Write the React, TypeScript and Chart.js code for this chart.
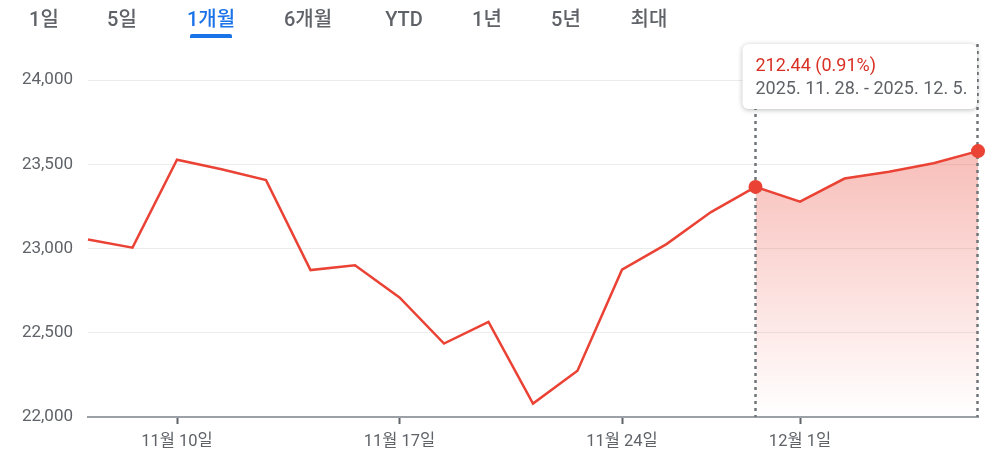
import React, { useEffect, useRef } from "react";
import { Chart, registerables } from "chart.js";
Chart.register(...registerables);

const dates = [
  "11월 6일", "11월 7일", "11월 10일", "11월 11일", "11월 12일", "11월 13일", "11월 14일",
  "11월 17일", "11월 18일", "11월 19일", "11월 20일", "11월 21일", "11월 24일", "11월 25일",
  "11월 26일", "11월 28일", "12월 1일", "12월 2일", "12월 3일", "12월 4일", "12월 5일",
];
const values = [
  23054, 23005, 23527, 23470, 23406, 22872, 22901, 22710, 22436, 22565, 22080,
  22275, 22874, 23026, 23216, 23365.69, 23278, 23415, 23455, 23506, 23578.13,
];
const shownTicks = ["11월 10일", "11월 17일", "11월 24일", "12월 1일"];
const yTicks = [22000, 22500, 23000, 23500, 24000];
const tabs = ["1일", "5일", "1개월", "6개월", "YTD", "1년", "5년", "최대"];
const tabCenters = [44, 122, 211, 308, 404, 487, 566, 649];
const activeTab = 2;
const rangeStart = 15;
const rangeEnd = 20;
const rangeLabel = "2025. 11. 28. - 2025. 12. 5.";

const RED = "#ea4335";
const FONT = "Roboto, 'Noto Sans CJK KR', sans-serif";

export default function App() {
  const ref = useRef<HTMLCanvasElement | null>(null);

  useEffect(() => {
    const canvas = ref.current;
    if (!canvas) return;
    const change = values[rangeEnd] - values[rangeStart];
    const pct = (change / values[rangeStart]) * 100;
    const redText = `${change.toFixed(2)} (${pct.toFixed(2)}%)`;

    const overlay = {
      id: "overlay",
      afterDatasetsDraw(chart: any) {
        const ctx = chart.ctx;
        const bottom = chart.chartArea.bottom;
        const meta = chart.getDatasetMeta(0);
        ctx.save();
        ctx.strokeStyle = "#70757a";
        ctx.lineWidth = 2.5;
        ctx.setLineDash([3, 4]);
        [rangeStart, rangeEnd].forEach((i) => {
          const px = Math.round(meta.data[i].x) - 0.5;
          ctx.beginPath();
          ctx.moveTo(px, 44);
          ctx.lineTo(px, bottom);
          ctx.stroke();
        });
        ctx.setLineDash([]);
        ctx.fillStyle = RED;
        [rangeStart, rangeEnd].forEach((i) => {
          const p = meta.data[i];
          ctx.beginPath();
          ctx.arc(p.x, p.y, 7, 0, Math.PI * 2);
          ctx.fill();
        });
        ctx.restore();
      },
      afterDraw(chart: any) {
        const ctx = chart.ctx;
        const x = chart.scales.x;
        const x0 = x.getPixelForValue(rangeStart);
        const x1 = x.getPixelForValue(rangeEnd);
        const left = x0 - 13;
        const top = 44;
        const w = x1 - left - 1;
        const h = 65;
        ctx.save();
        ctx.shadowColor = "rgba(60,64,67,0.35)";
        ctx.shadowBlur = 5;
        ctx.shadowOffsetY = 1;
        ctx.fillStyle = "#fff";
        ctx.beginPath();
        (ctx as any).roundRect(left, top, w, h, 6);
        ctx.fill();
        ctx.shadowColor = "transparent";
        ctx.textAlign = "left";
        ctx.textBaseline = "alphabetic";
        ctx.font = `18px ${FONT}`;
        ctx.fillStyle = "#d93025";
        ctx.fillText(redText, left + 13, 71);
        ctx.fillStyle = "#5f6368";
        ctx.fillText(rangeLabel, left + 13, 94);
        ctx.restore();
      },
    };

    const chart = new Chart(canvas, {
      type: "line",
      data: {
        labels: dates,
        datasets: [
          {
            data: values,
            borderColor: RED,
            borderWidth: 2.5,
            backgroundColor: RED,
            pointRadius: 0,
            fill: false,
            tension: 0,
          },
          {
            data: values.map((v, i) => (i >= rangeStart && i <= rangeEnd ? v : null)),
            borderWidth: 0,
            pointRadius: 0,
            fill: "start",
            backgroundColor: (c: any) => {
              const area = c.chart.chartArea;
              if (!area) return "rgba(234,67,53,0.3)";
              const g = c.chart.ctx.createLinearGradient(0, area.top + 60, 0, area.bottom);
              g.addColorStop(0, "rgba(234,67,53,0.36)");
              g.addColorStop(1, "rgba(234,67,53,0)");
              return g;
            },
          },
        ],
      },
      options: {
        animation: false,
        responsive: false,
        maintainAspectRatio: false,
        layout: { padding: { top: 80, right: 21, left: 0, bottom: 0 } },
        plugins: { legend: { display: false }, tooltip: { enabled: false } },
        scales: {
          x: {
            type: "category",
            afterBuildTicks: (s: any) => {
              s.ticks = s.ticks.filter((t: any) => shownTicks.includes(dates[t.value]));
            },
            afterFit: (s: any) => {
              s.height = 40;
            },
            ticks: {
              autoSkip: false,
              maxRotation: 0,
              padding: 8,
              color: "#5f6368",
              font: { family: FONT, size: 16.5 },
            },
            grid: {
              drawOnChartArea: false,
              drawTicks: true,
              tickLength: 7,
              tickColor: "#5f6368",
              tickWidth: 2,
            },
            border: { display: true, color: "#9aa0a6", width: 2 },
          },
          y: {
            min: 22000,
            max: 24000,
            afterBuildTicks: (s: any) => {
              s.ticks = yTicks.map((v) => ({ value: v }));
            },
            afterFit: (s: any) => {
              s.width = 88;
            },
            ticks: {
              padding: 15,
              color: "#5f6368",
              font: { family: FONT, size: 17 },
              callback: (v: any) => Number(v).toLocaleString("en-US"),
            },
            grid: { drawTicks: false, color: "#ececec", lineWidth: 1 },
            border: { display: false },
          },
        },
      },
      plugins: [overlay],
    });
    return () => chart.destroy();
  }, []);

  return (
    <div style={{ position: "absolute", left: 0, top: 0, width: 999, height: 457, background: "#fff" }}>
      <canvas ref={ref} width={999} height={457} style={{ position: "absolute", left: 0, top: 0, width: 999, height: 457 }} />
      {tabs.map((t, i) => (
        <div
          key={t}
          style={{
            position: "absolute",
            left: tabCenters[i],
            top: 7,
            transform: "translateX(-50%)",
            fontFamily: FONT,
            fontSize: 20,
            fontWeight: 500,
            lineHeight: "24px",
            whiteSpace: "nowrap",
            color: i === activeTab ? "#1a73e8" : "#5f6368",
          }}
        >
          {t}
        </div>
      ))}
      <div
        style={{
          position: "absolute",
          left: 190,
          top: 34,
          width: 42,
          height: 4,
          background: "#1a73e8",
          borderRadius: "2px 2px 0 0",
        }}
      />
    </div>
  );
}
